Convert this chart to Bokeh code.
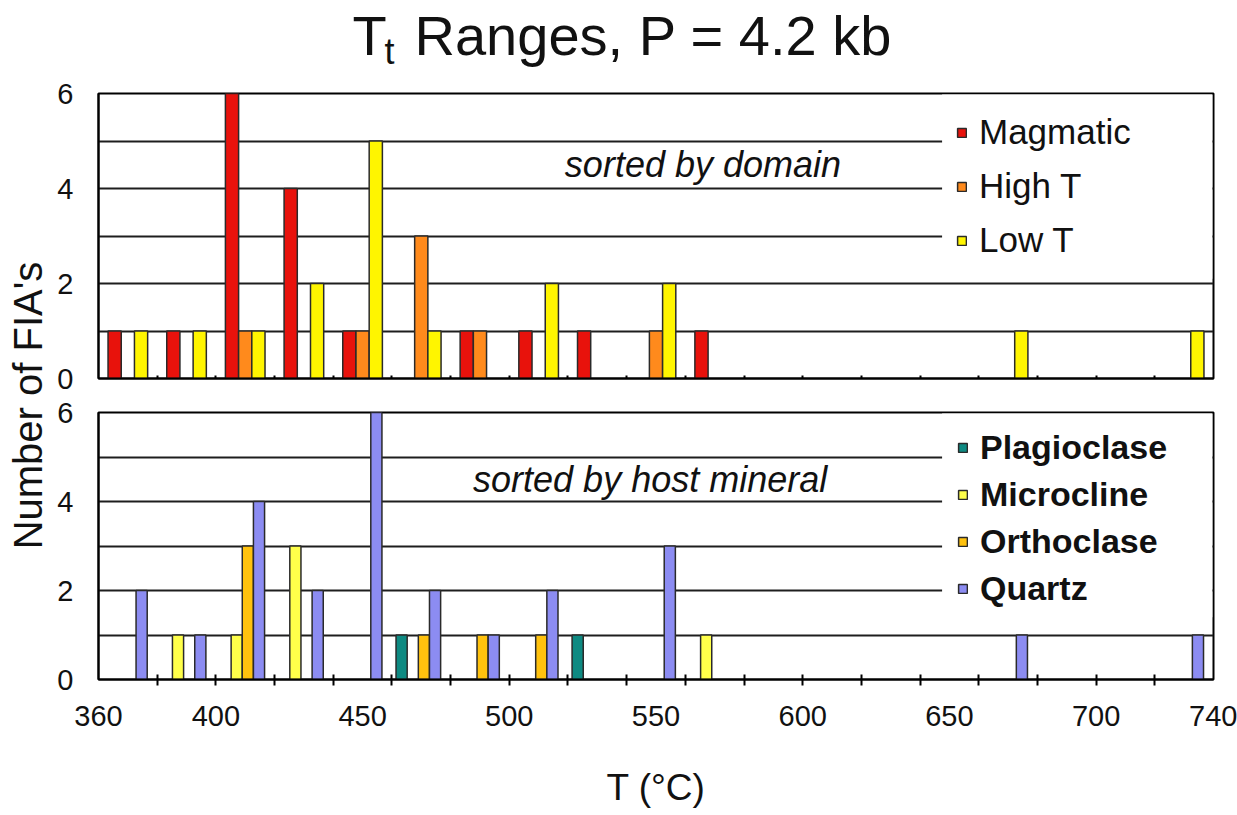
import math
from bokeh.plotting import figure
from bokeh.models import (ColumnDataSource, Range1d, FixedTicker, Legend, LegendItem,
                          BoxAnnotation, Label)
from bokeh.layouts import row, column
from bokeh.embed import file_html
from bokeh.resources import INLINE
from bokeh.core.properties import value

# ---------------- data ----------------
bin_start = [360, 380, 400, 420, 440, 460, 480, 500, 520, 540,
             560, 580, 600, 620, 640, 660, 680, 700, 720]
# top panel: sorted by domain
magmatic = [1, 1, 6, 4, 1, 0, 1, 1, 1, 0, 1, 0, 0, 0, 0, 0, 0, 0, 0]
high_t   = [0, 0, 1, 0, 1, 3, 1, 0, 0, 1, 0, 0, 0, 0, 0, 0, 0, 0, 0]
low_t    = [1, 1, 1, 2, 5, 1, 0, 2, 0, 2, 0, 0, 0, 0, 0, 1, 0, 0, 1]
# bottom panel: sorted by host mineral
plagioclase = [0, 0, 0, 0, 0, 1, 0, 0, 1, 0, 0, 0, 0, 0, 0, 0, 0, 0, 0]
microcline  = [0, 1, 1, 3, 0, 0, 0, 0, 0, 0, 1, 0, 0, 0, 0, 0, 0, 0, 0]
orthoclase  = [0, 0, 3, 0, 0, 1, 1, 1, 0, 0, 0, 0, 0, 0, 0, 0, 0, 0, 0]
quartz      = [2, 1, 4, 2, 6, 2, 1, 2, 0, 3, 0, 0, 0, 0, 0, 1, 0, 0, 1]

x_tick_labels = [360, 400, 450, 500, 550, 600, 650, 700, 740]
y_tick_labels = [0, 2, 4, 6]

FONT = "Liberation Sans"
OUTLINE = "#2a2a2a"
TXT = "#111111"

# ---------------- layout sizes ----------------
YLAB_W = 50
MAIN_W = 1187
TITLE_H = 75
TOP_H = 320
BOT_H = 420
LEFT_B = 48
RIGHT_B = 24
TOTAL_H = TITLE_H + TOP_H + BOT_H

bin_width = 20
boundaries = [s for s in bin_start[1:]]


def make_source(vals, offset):
    xs = [s + bin_width / 2 + offset for s, v in zip(bin_start, vals) if v > 0]
    tops = [v for v in vals if v > 0]
    return ColumnDataSource(dict(x=xs, top=tops))


def base_panel(height, min_top, min_bottom):
    p = figure(width=MAIN_W, height=height, x_range=Range1d(360, 740),
               y_range=Range1d(0, 6), toolbar_location=None, output_backend="svg",
               min_border_left=LEFT_B, min_border_right=RIGHT_B,
               min_border_top=min_top, min_border_bottom=min_bottom)
    p.outline_line_color = "black"
    p.outline_line_width = 2
    p.background_fill_color = "white"
    p.border_fill_color = "white"
    p.xgrid.visible = False
    p.ygrid.ticker = FixedTicker(ticks=[1, 2, 3, 4, 5])
    p.ygrid.grid_line_color = "#1e1e1e"
    p.ygrid.grid_line_width = 2
    p.yaxis.ticker = FixedTicker(ticks=y_tick_labels)
    p.yaxis.major_tick_line_color = None
    p.yaxis.minor_tick_line_color = None
    p.yaxis.axis_line_color = "black"
    p.yaxis.axis_line_width = 2
    p.yaxis.major_label_text_font = FONT
    p.yaxis.major_label_text_font_size = "29px"
    p.yaxis.major_label_text_color = TXT
    p.yaxis.major_label_standoff = 19
    p.xaxis.axis_line_color = "black"
    p.xaxis.axis_line_width = 2
    p.xaxis.major_tick_line_color = None
    p.xaxis.minor_tick_line_color = "black"
    p.xaxis.minor_tick_line_width = 2
    return p


# ---------------- title (frame aligned with the panels, x in degrees C) ----------------
tf = figure(width=MAIN_W, height=TITLE_H, x_range=Range1d(360, 740),
            y_range=Range1d(0, TITLE_H), toolbar_location=None, output_backend="svg",
            x_axis_type=None, y_axis_type=None,
            min_border_left=LEFT_B, min_border_right=RIGHT_B,
            min_border_top=0, min_border_bottom=0)
tf.grid.visible = False
tf.outline_line_color = None
tf.text(x=[446.6], y=[40.0], text=["T"], text_font=value(FONT), text_font_size="56px",
        text_align="left", text_baseline="middle", text_color=TXT)
tf.text(x=[457.5], y=[24.0], text=["t"], text_font=value(FONT), text_font_size="36px",
        text_align="left", text_baseline="middle", text_color=TXT)
tf.text(x=[467.7], y=[40.0], text=["Ranges, P = 4.2 kb"], text_font=value(FONT),
        text_font_size="56px", text_align="left", text_baseline="middle",
        text_color=TXT)

# ---------------- y label ----------------
yf = figure(width=YLAB_W, height=TOTAL_H, x_range=Range1d(0, YLAB_W),
            y_range=Range1d(0, TOTAL_H), toolbar_location=None, output_backend="svg",
            x_axis_type=None, y_axis_type=None, min_border=0)
yf.grid.visible = False
yf.outline_line_color = None
yf.text(x=[27], y=[TOTAL_H - 405], text=["Number of FIA's"], angle=math.pi / 2,
        text_font=value(FONT), text_font_size="40px", text_align="center",
        text_baseline="middle", text_color=TXT)

# ---------------- top panel ----------------
pt = base_panel(TOP_H, 18, 17)
pt.xaxis.ticker = FixedTicker(ticks=[], minor_ticks=boundaries)
pt.xaxis.major_label_text_font_size = "0px"
pt.xaxis.major_label_standoff = 0
pt.xaxis.minor_tick_in = 3
pt.xaxis.minor_tick_out = 0

wt = 4.5
top_series = [("Magmatic", magmatic, "#E8120C", -wt),
              ("High T", high_t, "#FF8A1C", 0.0),
              ("Low T", low_t, "#FFF500", wt)]
top_items = []
for name, vals, col, off in top_series:
    r = pt.vbar(x="x", top="top", bottom=0, width=wt, source=make_source(vals, off),
                fill_color=col, line_color=OUTLINE, line_width=1.5)
    top_items.append(LegendItem(label=name, renderers=[r]))

pt.add_layout(BoxAnnotation(left=647.5, right=739.6, bottom=2.1, top=5.98,
                            fill_color="white", fill_alpha=1.0, line_alpha=0))
pt.add_layout(Label(x=566, y=4.5, text="sorted by domain", text_font=FONT,
                    text_font_size="36px", text_font_style="italic",
                    text_align="center", text_baseline="middle", text_color=TXT))
leg_t = Legend(items=top_items, location=(858, 118), glyph_width=11, glyph_height=11,
               label_text_font=FONT, label_text_font_size="35px", label_height=40,
               label_standoff=12, spacing=14, padding=0, margin=0,
               border_line_alpha=0, background_fill_alpha=0,
               label_text_color=TXT)
pt.add_layout(leg_t)

# ---------------- bottom panel ----------------
pb = base_panel(BOT_H, 17, 136)
pb.xaxis.ticker = FixedTicker(ticks=x_tick_labels, minor_ticks=boundaries)
pb.xaxis.major_label_text_font = FONT
pb.xaxis.major_label_text_font_size = "29px"
pb.xaxis.major_label_text_color = TXT
pb.xaxis.major_label_standoff = 20
pb.xaxis.minor_tick_in = 5
pb.xaxis.minor_tick_out = 6
pb.xaxis.axis_label = "T (°C)"
pb.xaxis.axis_label_text_font = FONT
pb.xaxis.axis_label_text_font_size = "37px"
pb.xaxis.axis_label_text_font_style = "normal"
pb.xaxis.axis_label_text_color = TXT
pb.xaxis.axis_label_standoff = 38

wb = 3.8
bot_series = [("Plagioclase", plagioclase, "#0E8A82", -6.7),
              ("Microcline", microcline, "#FFFF4A", -2.9),
              ("Orthoclase", orthoclase, "#FFC20E", 0.9),
              ("Quartz", quartz, "#8C8CF2", 4.7)]
bot_items = []
for name, vals, col, off in bot_series:
    r = pb.vbar(x="x", top="top", bottom=0, width=wb, source=make_source(vals, off),
                fill_color=col, line_color=OUTLINE, line_width=1.5)
    bot_items.append(LegendItem(label=name, renderers=[r]))

pb.add_layout(BoxAnnotation(left=647.5, right=739.6, bottom=1.4, top=5.98,
                            fill_color="white", fill_alpha=1.0, line_alpha=0))
pb.add_layout(Label(x=548, y=4.5, text="sorted by host mineral", text_font=FONT,
                    text_font_size="36px", text_font_style="italic",
                    text_align="center", text_baseline="middle", text_color=TXT))
leg_b = Legend(items=bot_items, location=(859, 71), glyph_width=11, glyph_height=11,
               label_text_font=FONT, label_text_font_size="34px",
               label_text_font_style="bold", label_height=38,
               label_standoff=12, spacing=8, padding=0, margin=0,
               border_line_alpha=0, background_fill_alpha=0,
               label_text_color=TXT)
pb.add_layout(leg_b)

layout = row(yf, column(tf, pt, pb, spacing=0), spacing=0)
open("out.html", "w").write(file_html(layout, INLINE))
